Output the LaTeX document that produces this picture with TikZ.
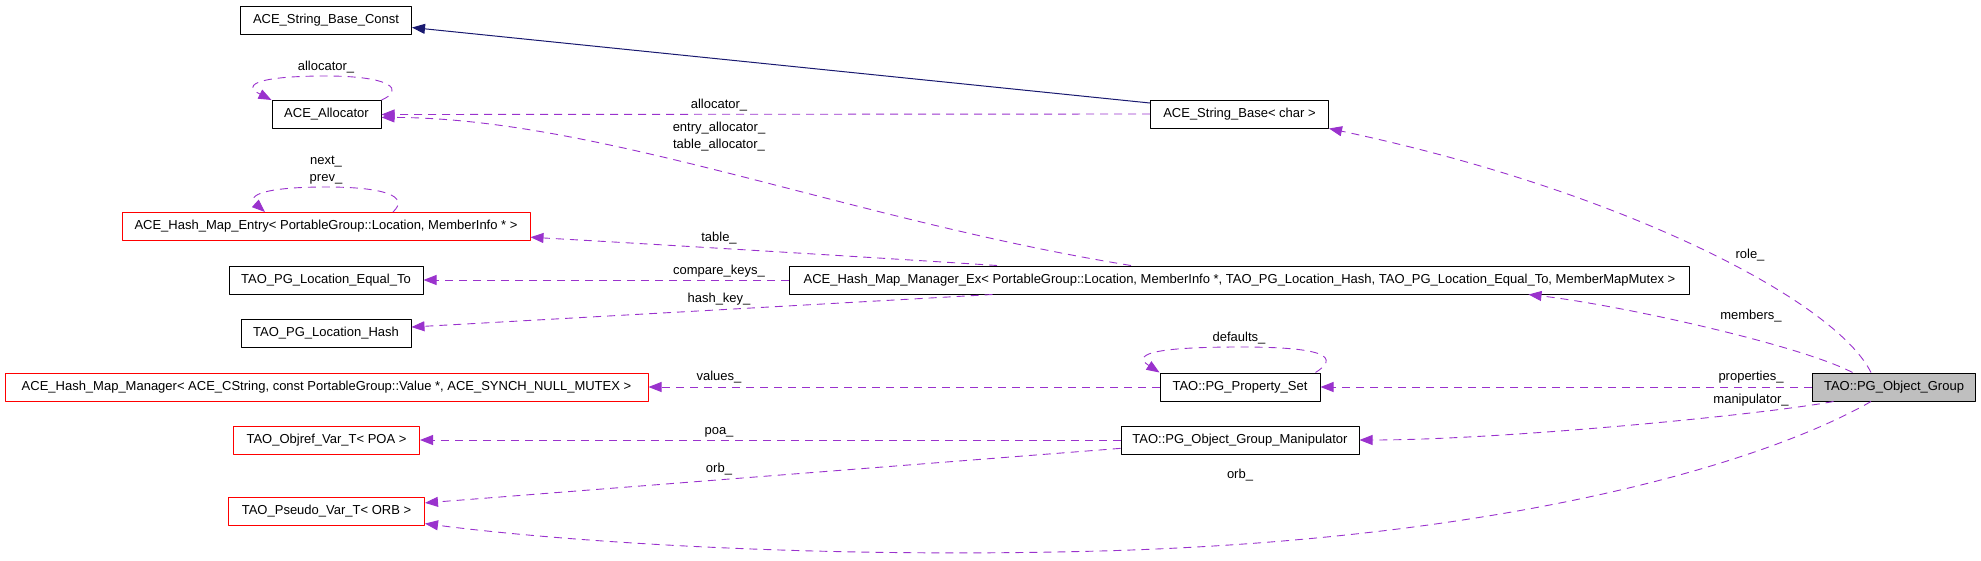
\documentclass[tikz,border=0pt]{standalone}
\usepackage{fontspec}
\setmainfont{Liberation Sans}
\usetikzlibrary{calc,arrows.meta}

\definecolor{edgepurple}{HTML}{9A32CD}
\definecolor{navyedge}{HTML}{191970}
\definecolor{boxgray}{HTML}{BFBFBF}

\begin{document}
\begin{tikzpicture}[x=1pt, y=-1pt, line join=round,
    >={Triangle[length=13pt,width=10pt]},
    cls/.style={draw=black, line width=1pt, minimum height=28pt, inner sep=0pt, font=\fontsize{13}{15}\selectfont},
    redcls/.style={cls, draw=red},
    dep/.style={->, draw=edgepurple, line width=0.9pt, dash pattern=on 8pt off 6pt},
    inh/.style={->, draw=navyedge, line width=1pt},
    lbl/.style={inner sep=0pt, font=\fontsize{13}{15}\selectfont, align=center}]
    \useasboundingbox (0,0) rectangle (1981,560);

    % left column
    \node[cls, minimum width=171pt] (SBC) at (326,20) {ACE\_String\_Base\_Const};
    \node[cls, minimum width=109pt] (Alloc) at (326.5,114.5) {ACE\_Allocator};
    \node[redcls, minimum width=408pt] (HME) at (326,226.5) {ACE\_Hash\_Map\_Entry< PortableGroup::Location, MemberInfo * >};
    \node[cls, minimum width=194pt] (EqTo) at (326,280) {TAO\_PG\_Location\_Equal\_To};
    \node[cls, minimum width=170pt] (LHash) at (326,333) {TAO\_PG\_Location\_Hash};
    \node[redcls, minimum width=643pt] (HMM) at (326.5,387) {ACE\_Hash\_Map\_Manager< ACE\_CString, const PortableGroup::Value *, ACE\_SYNCH\_NULL\_MUTEX >};
    \node[redcls, minimum width=186pt] (ObjRef) at (326.5,440) {TAO\_Objref\_Var\_T< POA >};
    \node[redcls, minimum width=196pt] (Pseudo) at (326.5,511.5) {TAO\_Pseudo\_Var\_T< ORB >};

    % middle column
    \node[cls, minimum width=178pt] (SB) at (1239.5,114) {ACE\_String\_Base< char >};
    \node[cls, minimum width=900pt] (HMX) at (1239.5,280) {ACE\_Hash\_Map\_Manager\_Ex< PortableGroup::Location, MemberInfo *, TAO\_PG\_Location\_Hash, TAO\_PG\_Location\_Equal\_To, MemberMapMutex >};
    \node[cls, minimum width=160pt] (PSet) at (1240,387) {TAO::PG\_Property\_Set};
    \node[cls, minimum width=238pt] (Manip) at (1240,440) {TAO::PG\_Object\_Group\_Manipulator};

    \node[cls, fill=boxgray, minimum width=163pt] (ObjGrp) at (1894,387) {TAO::PG\_Object\_Group};

    \draw[inh] (SB.173) -- (SBC.-5);

    \draw[dep] (SB.west) -- (Alloc.east) node[lbl] at (719,105) {allocator\_};
    \draw[dep] (Alloc.north east) .. controls (405,90) and (392,76) .. (326,76)
        .. controls (262,76) and (240,84) .. (Alloc.north west);
    \node[lbl] (LAlloc) at (326,67) {allocator\_};
    \draw[dep] ([xshift=-108.5pt]HMX.north) .. controls (850,220) and (600,118) .. (Alloc.-3);
    \node[lbl] (LEntry) at (719,136.5) {entry\_allocator\_\\[2pt]table\_allocator\_};

    \draw[dep] ([xshift=67pt]HME.north) .. controls (410,196) and (384,187) .. (326,187)
        .. controls (266,187) and (246,195) .. ([xshift=-61pt]HME.north);
    \node[lbl] (LNext) at (326,170) {next\_\\[2pt]prev\_};

    \draw[dep] ([xshift=-242.5pt]HMX.north) .. controls (850,256) and (650,244) .. (HME.-3.5)
        node[lbl] at (719,238) {table\_};
    \draw[dep] (HMX.west) -- (EqTo.east) node[lbl] at (719,271) {compare\_keys\_};
    \draw[dep] ([xshift=-247pt]HMX.south) -- (LHash.4) node[lbl] at (719,299) {hash\_key\_};

    \draw[dep] ([xshift=-5pt]PSet.north east) .. controls (1348,352) and (1302,347) .. (1240,347)
        .. controls (1168,347) and (1128,352) .. (PSet.north west);
    \node[lbl] (LDef) at (1239,338) {defaults\_};

    \draw[dep] (PSet.west) -- (HMM.east) node[lbl] at (719,377) {values\_};
    \draw[dep] (Manip.west) -- (ObjRef.east) node[lbl] at (719,432) {poa\_};
    \draw[dep] (Manip.184) -- (Pseudo.5) node[lbl] at (719,469) {orb\_};

    \draw[dep] ([xshift=-23pt]ObjGrp.north) .. controls (1835,300) and (1620,190) .. (SB.south east)
        node[lbl] at (1750,255) {role\_};
    \draw[dep] ([xshift=-41.5pt]ObjGrp.north) .. controls (1800,345) and (1620,305) .. ([xshift=289pt]HMX.south)
        node[lbl] at (1751,316) {members\_};
    \draw[dep] (ObjGrp.west) -- (PSet.east) node[lbl] at (1751,377) {properties\_};
    \draw[dep] ([xshift=-60.5pt]ObjGrp.south) .. controls (1760,415) and (1500,440) .. (Manip.east)
        node[lbl] at (1751,400) {manipulator\_};
    \draw[dep] ([xshift=-23pt]ObjGrp.south) .. controls (1760,465) and (1500,540) .. (1100,551)
        .. controls (800,559) and (550,540) .. (Pseudo.-7)
        node[lbl] at (1240,475) {orb\_};
\end{tikzpicture}
\end{document}
